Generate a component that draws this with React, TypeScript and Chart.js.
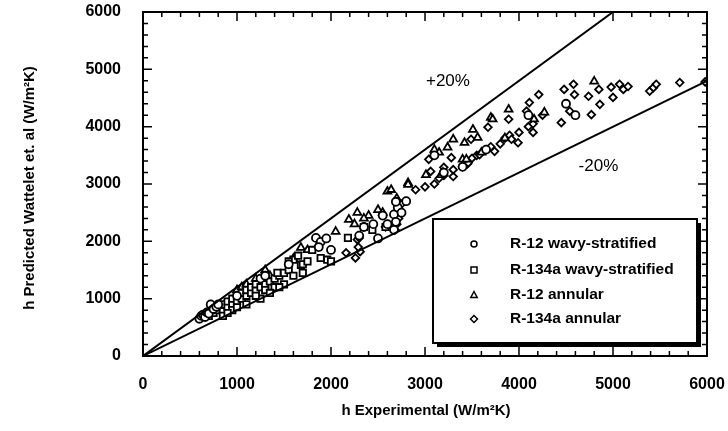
import React, { useEffect, useRef } from "react";
import { Chart, registerables } from "chart.js";

Chart.register(...registerables);

const xTicks = [0, 1000, 2000, 3000, 4000, 5000, 6000];
const yTicks = [0, 1000, 2000, 3000, 4000, 5000, 6000];

const r12Wavy: [number, number][] = [
  [600, 650], [620, 700], [640, 720], [660, 680], [680, 760], [700, 740], [720, 900], [750, 820],
  [780, 860], [800, 900], [1000, 1050], [1250, 1350], [1300, 1400], [1550, 1600], [1840, 2060],
  [1890, 1990], [1870, 1900], [1950, 2050], [2000, 1850], [2300, 2100], [2350, 2250], [2450, 2300],
  [2500, 2050], [2550, 2450], [2600, 2300], [2670, 2470], [2690, 2340], [2670, 2200], [2710, 2590],
  [2690, 2690], [2750, 2500], [2800, 2700], [3200, 3200], [3100, 3500], [3400, 3300], [3650, 3600],
  [4100, 4200], [4500, 4400], [4600, 4200],
];

const r134aWavy: [number, number][] = [
  [650, 720], [700, 700], [750, 750], [780, 800], [800, 850], [850, 780], [850, 900], [900, 850],
  [900, 950], [950, 900], [950, 1000], [1000, 950], [1000, 1050], [1050, 1000], [1050, 1100],
  [1100, 1050], [1100, 1150], [1150, 1100], [1150, 1200], [1200, 1150], [1200, 1250], [1250, 1200],
  [1300, 1250], [1300, 1150], [1350, 1300], [1400, 1350], [1400, 1200], [1450, 1400], [1430, 1450],
  [1500, 1450], [1550, 1500], [1600, 1680], [1680, 1590], [1700, 1600], [1750, 1650], [1600, 1400],
  [1890, 1710], [1960, 1680], [2000, 1650], [2180, 2060], [2350, 2250], [2440, 2200], [2580, 2250],
  [1250, 1000], [1100, 900], [950, 800], [850, 700], [1350, 1100], [1500, 1250], [1800, 1850],
  [1650, 1750], [1550, 1650], [1200, 1050], [1000, 850], [1450, 1200], [1700, 1450], [900, 750],
];

const r12Annular: [number, number][] = [
  [700, 800], [1000, 1150], [1050, 1200], [1100, 1250], [1200, 1350], [1300, 1450], [1300, 1500],
  [1350, 1400], [1250, 1300], [1600, 1700], [1680, 1890], [1750, 1850], [1850, 1900], [2050, 2170],
  [2190, 2380], [2280, 2500], [2250, 2300], [2400, 2450], [2500, 2550], [2600, 2870], [2640, 2900],
  [2820, 3020], [2820, 2990], [3010, 3160], [3100, 3600], [3170, 3160], [3190, 3200], [3150, 3550],
  [3240, 3640], [3300, 3780], [3400, 3430], [3420, 3720], [3440, 3430], [3510, 3950], [3560, 3810],
  [3700, 4160], [3720, 4130], [3890, 4300], [4160, 4130], [4270, 4250], [4800, 4790],
  [2550, 2500], [2700, 2750], [2350, 2400], [3600, 3550], [3850, 3800],
];

const r134aAnnular: [number, number][] = [
  [2160, 1800], [2260, 1710], [2280, 2030], [2300, 2060], [2310, 1820], [2290, 1900], [2580, 2250],
  [2680, 2200], [2700, 2300], [2720, 2400], [2700, 2500], [2750, 2650], [2900, 2900], [3000, 2950],
  [3040, 3430], [3060, 3220], [3100, 3000], [3150, 3100], [3200, 3290], [3200, 3150], [3280, 3460],
  [3300, 3130], [3300, 3250], [3400, 3300], [3450, 3350], [3460, 3370], [3490, 3780], [3500, 3450],
  [3550, 3500], [3580, 3510], [3650, 3600], [3670, 3990], [3700, 3650], [3740, 3570], [3800, 3700],
  [3850, 3800], [3890, 4130], [3900, 3850], [3920, 3780], [3990, 3720], [4000, 3900], [4080, 4270],
  [4100, 4000], [4110, 4420], [4150, 4050], [4150, 3900], [4210, 4560], [4250, 4200], [4450, 4070],
  [4480, 4650], [4540, 4270], [4580, 4740], [4590, 4560], [4740, 4530], [4770, 4210], [4850, 4650],
  [4860, 4390], [4980, 4690], [5000, 4510], [5070, 4740], [5110, 4650], [5160, 4700], [5390, 4620],
  [5430, 4680], [5460, 4740], [5710, 4770], [5980, 4780],
];

const upperLine: [number, number][] = [[0, 0], [5000, 6000]];
const lowerLine: [number, number][] = [[0, 0], [6000, 4800]];

const seriesNames = ["R-12 wavy-stratified", "R-134a wavy-stratified", "R-12 annular", "R-134a annular"];
const seriesStyles = ["circle", "rect", "triangle", "rectRot"];
const lineLabels = ["+20%", "-20%"];

const FONT = "'Liberation Sans', Arial, Helvetica, sans-serif";

const toPts = (a: [number, number][]) => a.map(([x, y]) => ({ x, y }));

export default function App() {
  const ref = useRef<HTMLCanvasElement>(null);
  useEffect(() => {
    document.body.style.margin = "0";
    const ctx = ref.current!.getContext("2d")!;
    const frame = {
      id: "frame",
      afterDraw(chart: any) {
        const c = chart.ctx;
        const { left, right, top, bottom } = chart.chartArea;
        const xs = chart.scales.x;
        const ys = chart.scales.y;
        c.save();
        c.strokeStyle = "#000";
        c.lineWidth = 2;
        c.strokeRect(left, top, right - left, bottom - top);
        c.lineWidth = 1.5;
        for (let v = 0; v <= 6000; v += 200) {
          const major = v % 1000 === 0;
          const len = major ? 9 : 5;
          const px = xs.getPixelForValue(v);
          const py = ys.getPixelForValue(v);
          c.beginPath();
          c.moveTo(px, bottom); c.lineTo(px, bottom - len);
          c.moveTo(px, top); c.lineTo(px, top + len);
          c.moveTo(left, py); c.lineTo(left + len, py);
          c.moveTo(right, py); c.lineTo(right - len, py);
          c.stroke();
        }
        // line labels
        c.fillStyle = "#000";
        c.font = `17px ${FONT}`;
        c.textAlign = "center";
        c.textBaseline = "middle";
        c.fillText(lineLabels[0], xs.getPixelForValue(3244), ys.getPixelForValue(4790));
        c.fillText(lineLabels[1], xs.getPixelForValue(4845), ys.getPixelForValue(3304));
        // axis titles
        c.font = `bold 15px ${FONT}`;
        c.fillText("h Experimental (W/m\u00B2K)", 426, 411);
        c.save();
        c.translate(30, 188);
        c.rotate(-Math.PI / 2);
        c.fillText("h Predicted Wattelet et. al (W/m\u00B2K)", 0, 0);
        c.restore();
        // legend box
        const bx = 433, by = 219, bw = 264, bh = 124;
        c.fillStyle = "#000";
        c.fillRect(bx + 4, by + 4, bw, bh);
        c.fillStyle = "#fff";
        c.fillRect(bx, by, bw, bh);
        c.lineWidth = 2;
        c.strokeRect(bx, by, bw, bh);
        const rows = [244, 270, 295, 319];
        c.textAlign = "left";
        c.font = `bold 15.5px ${FONT}`;
        seriesNames.forEach((name, i) => {
          const mx = 474, my = rows[i];
          c.lineWidth = 1.5;
          c.strokeStyle = "#000";
          c.fillStyle = "#fff";
          c.beginPath();
          if (seriesStyles[i] === "circle") {
            c.arc(mx, my, 3, 0, Math.PI * 2);
          } else if (seriesStyles[i] === "rect") {
            c.rect(mx - 3, my - 3, 6, 6);
          } else if (seriesStyles[i] === "triangle") {
            c.moveTo(mx, my - 3.5); c.lineTo(mx + 3.2, my + 2.5); c.lineTo(mx - 3.2, my + 2.5); c.closePath();
          } else {
            c.moveTo(mx, my - 3.5); c.lineTo(mx + 3.5, my); c.lineTo(mx, my + 3.5); c.lineTo(mx - 3.5, my); c.closePath();
          }
          c.fill();
          c.stroke();
          c.fillStyle = "#000";
          c.fillText(name, 510, my);
        });
        c.restore();
      },
    };
    const mk = (label: string, data: [number, number][], style: string, r: number) => ({
      type: "scatter" as const,
      label,
      data: toPts(data),
      pointStyle: style,
      pointRadius: r,
      pointBorderWidth: 1.8,
      pointBorderColor: "#000",
      pointBackgroundColor: "#fff",
      showLine: false,
    });
    const zeroPad = (s: any) => { s.paddingTop = 0; s.paddingBottom = 0; s.paddingLeft = 0; s.paddingRight = 0; };
    const chart = new Chart(ctx, {
      type: "scatter",
      data: {
        datasets: [
          { type: "line", label: "+20%", data: toPts(upperLine), borderColor: "#000", borderWidth: 2, pointRadius: 0, fill: false } as any,
          { type: "line", label: "-20%", data: toPts(lowerLine), borderColor: "#000", borderWidth: 2, pointRadius: 0, fill: false } as any,
          mk(seriesNames[0], r12Wavy, "circle", 4),
          mk(seriesNames[1], r134aWavy, "rect", 4.5),
          mk(seriesNames[2], r12Annular, "triangle", 4.5),
          mk(seriesNames[3], r134aAnnular, "rectRot", 3.8),
        ],
      },
      options: {
        responsive: false,
        animation: false,
        layout: { padding: { top: 12, right: 21, left: 0, bottom: 0 } },
        plugins: { legend: { display: false }, tooltip: { enabled: false } },
        scales: {
          x: {
            type: "linear",
            min: 0,
            max: 6000,
            afterBuildTicks: (s: any) => { s.ticks = xTicks.map((v) => ({ value: v })); },
            afterFit: (s: any) => { s.height = 75; zeroPad(s); },
            grid: { display: false, drawTicks: false },
            border: { display: false },
            ticks: { padding: 19, color: "#000", font: { family: FONT, size: 16, weight: "bold" }, maxRotation: 0, callback: (v: any) => String(v) },
          },
          y: {
            type: "linear",
            min: 0,
            max: 6000,
            afterBuildTicks: (s: any) => { s.ticks = yTicks.map((v) => ({ value: v })); },
            afterFit: (s: any) => { s.width = 143; zeroPad(s); },
            grid: { display: false, drawTicks: false },
            border: { display: false },
            ticks: { padding: 22, color: "#000", font: { family: FONT, size: 16, weight: "bold" }, callback: (v: any) => String(v) },
          },
        },
      } as any,
      plugins: [frame],
    });
    return () => chart.destroy();
  }, []);
  return (
    <div style={{ width: 728, height: 431, background: "#fff" }}>
      <canvas ref={ref} width={728} height={431} />
    </div>
  );
}
